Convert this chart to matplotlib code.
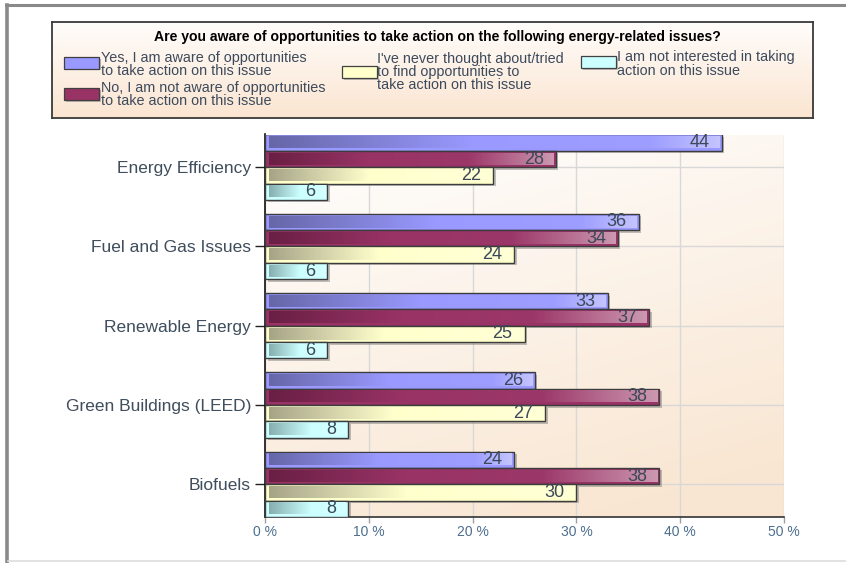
import numpy as np
import matplotlib
matplotlib.use("Agg")
import matplotlib.pyplot as plt
from matplotlib.patches import Rectangle
from matplotlib.lines import Line2D
from matplotlib.colors import LinearSegmentedColormap, to_rgb
import matplotlib.transforms as mtransforms

# ---------------- data ----------------
categories = ["Energy Efficiency", "Fuel and Gas Issues", "Renewable Energy",
              "Green Buildings (LEED)", "Biofuels"]
aware = [44, 36, 33, 26, 24]
not_aware = [28, 34, 37, 38, 38]
never_thought = [22, 24, 25, 27, 30]
not_interested = [6, 6, 6, 8, 8]
series_values = [aware, not_aware, never_thought, not_interested]
series_labels = ["Yes, I am aware of opportunities\nto take action on this issue",
                 "No, I am not aware of opportunities\nto take action on this issue",
                 "I've never thought about/tried\nto find opportunities to\ntake action on this issue",
                 "I am not interested in taking\naction on this issue"]
x_ticks = [0, 10, 20, 30, 40, 50]
x_tick_labels = ["0 %", "10 %", "20 %", "30 %", "40 %", "50 %"]
title = "Are you aware of opportunities to take action on the following energy-related issues?"

# ---------------- styles ----------------
base_colors = ["#9999ff", "#993366", "#ffffcc", "#ccffff"]
grad_stops = [
    [(0.0, "#6666a8"), (0.45, "#9999ff"), (0.85, "#9e9eff"), (1.0, "#c4c4ff")],
    [(0.0, "#6a1f44"), (0.35, "#993366"), (0.7, "#9c3769"), (1.0, "#cc98b0")],
    [(0.0, "#a6a487"), (0.45, "#ffffcc"), (1.0, "#ffffd6")],
    [(0.0, "#86aeae"), (0.55, "#ccffff"), (1.0, "#d4ffff")],
]

W, H = 846, 563
plt.rcParams['font.family'] = ['Liberation Sans', 'DejaVu Sans']
fig = plt.figure(figsize=(W / 100, H / 100), dpi=100)
fig.patch.set_facecolor("white")


def fx(x):
    return x / W


def fy(y):
    return 1 - y / H


# outer frame lines
fig.add_artist(Line2D([fx(6), fx(846)], [fy(5), fy(5)], color="#8a8a8a", lw=2.2))
fig.add_artist(Line2D([fx(7), fx(7)], [fy(5), fy(563)], color="#8a8a8a", lw=2.6))
fig.add_artist(Line2D([fx(8), fx(846)], [fy(561), fy(561)], color="#dddddd", lw=1.2))

# ---------------- legend box ----------------
lax = fig.add_axes([fx(52), fy(118), fx(813) - fx(52), (118 - 22) / H])
lax.set_xlim(0, 1)
lax.set_ylim(0, 1)
top_c = np.array(to_rgb("#fffdfb"))
bot_c = np.array(to_rgb("#fbe5d1"))
t = np.linspace(0, 1, 100)[:, None]
lg = (top_c[None, :] * (1 - t) + bot_c[None, :] * t)[:, None, :]
lax.imshow(lg, extent=[0, 1, 0, 1], aspect="auto", origin="upper", zorder=0)
lax.set_xticks([])
lax.set_yticks([])
for s in lax.spines.values():
    s.set_color("#3a3a3a")
    s.set_linewidth(1.3)

fig.text(fx(437), fy(37), title, ha="center", va="center", fontsize=10.1,
         fontweight="bold", color="black")

leg_pos = [  # (patch x0, patch y center, text x, text center y)
    (64, 63, 101, 64.5),
    (64, 94, 101, 94.5),
    (342, 72, 377, 72),
    (581, 62, 617, 64),
]
for k, (px, pyc, tx, tyc) in enumerate(leg_pos):
    pw, ph = 35, 11
    shadow = Rectangle((fx(px + 2), fy(pyc + ph / 2 + 2)), pw / W, ph / H,
                       transform=fig.transFigure, facecolor="#777777", alpha=0.45,
                       edgecolor="none", zorder=3)
    fig.add_artist(shadow)
    rect = Rectangle((fx(px), fy(pyc + ph / 2)), pw / W, ph / H,
                     transform=fig.transFigure, facecolor=base_colors[k],
                     edgecolor="#404040", lw=0.9, zorder=4)
    fig.add_artist(rect)
    fig.text(fx(tx), fy(tyc), series_labels[k], ha="left", va="center",
             fontsize=10.4, color="#3d4a5c", linespacing=0.95, zorder=5)

# ---------------- main axes ----------------
ax_top, ax_bot = 134.5, 517
ax = fig.add_axes([fx(265), fy(ax_bot), fx(784) - fx(265), (ax_bot - ax_top) / H])

# background gradient
gx = np.linspace(0, 1, 200)[None, :]
gyy = np.linspace(0, 1, 200)[:, None]
mix = np.clip(0.8 * gyy + 0.3 * gx, 0, 1)  # row 0 = top
bg_lo = np.array(to_rgb("#ffffff"))
bg_hi = np.array(to_rgb("#f9e6d2"))
bg = bg_lo[None, None, :] * (1 - mix[..., None]) + bg_hi[None, None, :] * mix[..., None]
ax.imshow(bg, extent=[0, 1, 0, 1], transform=ax.transAxes, aspect="auto",
          origin="upper", zorder=0)

n_series = len(series_values)
group_h = 0.825
bar_h = group_h / n_series
offsets = [(-group_h / 2 + bar_h * (j + 0.5)) for j in range(n_series)]

shadow_tr = ax.transData + mtransforms.ScaledTranslation(2.5 / 100, -2.5 / 100,
                                                          fig.dpi_scale_trans)
dx_in, dy_in = 0.25, 0.032
for j, vals in enumerate(series_values):
    cmap = LinearSegmentedColormap.from_list("g%d" % j, grad_stops[j])
    for i, v in enumerate(vals):
        yc = i + offsets[j]
        y0 = yc - bar_h / 2
        ax.add_patch(Rectangle((0, y0), v, bar_h, transform=shadow_tr,
                               facecolor="#666666", alpha=0.4, edgecolor="none",
                               zorder=2))
        ax.add_patch(Rectangle((0, y0), v, bar_h, facecolor=base_colors[j],
                               edgecolor="#3c3c3c", lw=1.0, zorder=3))
        ax.imshow(np.linspace(0, 1, 256)[None, :], cmap=cmap, vmin=0, vmax=1,
                  extent=[dx_in + 0.1, v - dx_in, yc + bar_h / 2 - dy_in,
                          yc - bar_h / 2 + dy_in],
                  aspect="auto", interpolation="bilinear", zorder=4)
        ax.annotate(str(v), xy=(v, yc), xytext=(-12 * 72 / 100, 0),
                    textcoords="offset points", ha="right", va="center",
                    fontsize=13, color="#3c4858", zorder=6)

ax.set_xlim(0, 50)
ax.set_ylim(len(categories) - 1 + group_h / 2, -group_h / 2)
ax.set_xticks(x_ticks)
ax.set_xticklabels(x_tick_labels)
ax.set_yticks(range(len(categories)))
ax.set_yticklabels(categories)

ax.grid(True, color="#d8d8d8", lw=1.0, zorder=1)
ax.set_axisbelow(True)
for gl in ax.get_xgridlines() + ax.get_ygridlines():
    gl.set_zorder(1)

ax.tick_params(axis="x", length=4, width=1, color="#a0a0a0", pad=2,
               labelsize=10, labelcolor="#4d6f8f")
ax.tick_params(axis="y", length=7, width=1, color="#222222", pad=3,
               labelsize=12.5, labelcolor="#3f4d5c")
ax.spines["top"].set_visible(False)
ax.spines["right"].set_visible(False)
ax.spines["left"].set_color("#111111")
ax.spines["bottom"].set_color("#333333")
ax.spines["left"].set_linewidth(1.2)
ax.spines["bottom"].set_linewidth(1.2)

fig.savefig("out.png", dpi=100, facecolor="white")
